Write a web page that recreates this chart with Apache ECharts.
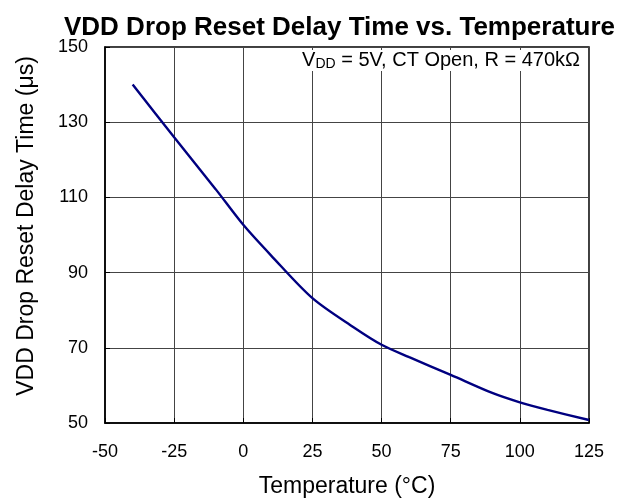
<!DOCTYPE html>
<html>
<head>
<meta charset="utf-8">
<script src="https://cdn.jsdelivr.net/npm/echarts@6/dist/echarts.min.js"></script>
<style>html,body{margin:0;padding:0;background:#fff;}#c{width:621px;height:504px;}</style>
</head>
<body>
<div id="c"></div>
<script>
const temperatures = [-40, -25, -10, 0, 10, 25, 40, 50, 60, 75, 90, 100, 110, 125];
const delayTimes = [140, 126, 112.2, 102.7, 94.6, 83.2, 75.4, 70.8, 67.5, 62.8, 58, 55.5, 53.5, 50.8];
const xTicks = [-50, -25, 0, 25, 50, 75, 100, 125];
const yTicks = [50, 70, 90, 110, 130, 150];

const FONT = 'Liberation Sans, Arial, sans-serif';
const chart = echarts.init(document.getElementById('c'), null, {renderer: 'canvas'});
chart.setOption({
  animation: false,
  backgroundColor: '#fff',
  title: [{
    text: 'VDD Drop Reset Delay Time vs. Temperature',
    left: 59, top: 10,
    textStyle: {fontFamily: FONT, fontSize: 26, fontWeight: 'bold', color: '#000'}
  }, {
    text: '{v|V}{s|DD}{v| = 5V, CT Open, R = 470kΩ}',
    right: 39, top: 49,
    padding: [0, 2, 0, 3],
    backgroundColor: '#fff',
    textStyle: {
      fontWeight: 'normal',
      rich: {
        v: {fontFamily: FONT, fontSize: 20, lineHeight: 22, fontWeight: 'normal', color: '#000'},
        s: {fontFamily: FONT, fontSize: 14, lineHeight: 22, fontWeight: 'normal', color: '#000', verticalAlign: 'bottom', padding: [5, 0, 0, 0]}
      }
    }
  }],
  grid: {left: 105, right: 32, top: 47, bottom: 81, show: true, borderColor: '#000', borderWidth: 1.5},
  xAxis: {
    type: 'value', min: xTicks[0], max: xTicks[xTicks.length - 1], interval: 25,
    name: 'Temperature (°C)', nameLocation: 'middle', nameGap: 52,
    nameTextStyle: {fontFamily: FONT, fontSize: 23, color: '#000'},
    axisLine: {show: true, onZero: false, lineStyle: {color: '#000', width: 1.5}},
    axisTick: {show: true, inside: true, length: 5, lineStyle: {color: '#000'}},
    axisLabel: {fontFamily: FONT, fontSize: 18, color: '#000', margin: 20},
    splitLine: {show: true, lineStyle: {color: '#444', width: 1}}
  },
  yAxis: {
    type: 'value', min: yTicks[0], max: yTicks[yTicks.length - 1], interval: 20,
    name: 'VDD Drop Reset Delay Time (μs)', nameLocation: 'middle', nameGap: 67,
    nameTextStyle: {fontFamily: FONT, fontSize: 23, color: '#000', padding: [0, 0, 0, 18]},
    axisLine: {show: true, onZero: false, lineStyle: {color: '#000', width: 1.5}},
    axisTick: {show: true, inside: true, length: 5, lineStyle: {color: '#000'}},
    axisLabel: {fontFamily: FONT, fontSize: 18, color: '#000', margin: 17},
    splitLine: {show: true, lineStyle: {color: '#444', width: 1}}
  },
  series: [{
    type: 'line',
    data: temperatures.map((t, i) => [t, delayTimes[i]]),
    showSymbol: false,
    smooth: 0.3,
    lineStyle: {color: '#000080', width: 2.4},
    z: 1
  }]
});
</script>
</body>
</html>
